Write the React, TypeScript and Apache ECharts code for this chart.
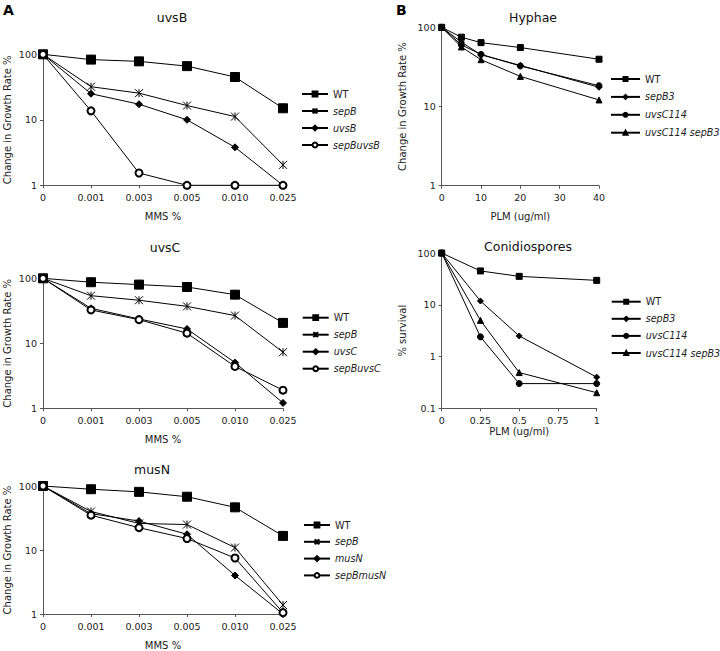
import React, { useEffect, useRef } from 'react';
import * as echarts from 'echarts';

// ---------- data ----------
const mmsDoses = ['0', '0.001', '0.003', '0.005', '0.010', '0.025'];

const uvsBPanelWT = [100, 83, 78, 66, 45, 15];
const uvsBPanelSepB = [100, 32, 25.5, 16.5, 11.2, 2.05];
const uvsBPanelUvsB = [100, 25, 17.3, 10, 3.8, 1];
const uvsBPanelSepBuvsB = [100, 13.7, 1.54, 1, 1, 1];

const uvsCPanelWT = [100, 87, 80, 73.5, 56, 20.6];
const uvsCPanelSepB = [100, 54, 46, 37, 26.7, 7.3];
const uvsCPanelUvsC = [100, 34.5, 23.7, 16.6, 5.05, 1.21];
const uvsCPanelSepBuvsC = [100, 32.6, 23.1, 14.3, 4.4, 1.9];

const musNPanelWT = [100, 89, 81, 68, 46.4, 16.6];
const musNPanelSepB = [100, 40, 26, 25, 10.9, 1.38];
const musNPanelMusN = [100, 37, 28.3, 17.6, 4, 1];
const musNPanelSepBmusN = [100, 35, 22.3, 15.1, 7.5, 1.05];

const hyphaeDoses = [0, 5, 10, 20, 40];
const hyphaeWT = [100, 75, 64, 55.5, 39.5];
const hyphaeSepB3 = [100, 65, 45, 33, 17.5];
const hyphaeUvsC114 = [100, 60, 45.5, 32.5, 18.3];
const hyphaeUvsC114SepB3 = [100, 56.5, 39, 24, 12.1];

const conidDoses = [0, 0.25, 0.5, 1];
const conidWT = [100, 45, 35.4, 29.6];
const conidSepB3 = [100, 11.8, 2.5, 0.4];
const conidUvsC114 = [100, 2.4, 0.3, 0.3];
const conidUvsC114SepB3 = [100, 5, 0.49, 0.2];

// ---------- styling helpers ----------
const FONT = 'DejaVu Sans';
const AXIS_COLOR = '#555';
const ASTERISK = 'path://M0,0L10,10M10,0L0,10M5,0L5,10';
const LEGEND_ROW = 10;

function sym(kind: string, big: boolean) {
  switch (kind) {
    case 'square':
      return { symbol: 'rect', symbolSize: big ? 9 : 6 };
    case 'asterisk':
      return { symbol: ASTERISK, symbolSize: big ? 8 : 6 };
    case 'diamond':
      return { symbol: 'diamond', symbolSize: big ? 7 : 6 };
    case 'open':
      return { symbol: 'emptyCircle', symbolSize: big ? 7 : 6 };
    case 'dot':
      return { symbol: 'circle', symbolSize: 6 };
    case 'triangle':
      return { symbol: 'triangle', symbolSize: 6 };
  }
  return {};
}

function lineSeries(name: string, idx: number, data: any[], kind: string, big: boolean) {
  return {
    type: 'line',
    name,
    xAxisIndex: idx,
    yAxisIndex: idx,
    data,
    ...sym(kind, big),
    showSymbol: true,
    lineStyle: { color: '#000', width: 1 },
    itemStyle: { color: '#000', borderColor: '#000', borderWidth: 1 },
    emphasis: { disabled: true },
  };
}

function pairs(xs: number[], ys: number[]) {
  return xs.map((x, i) => [x, ys[i]]);
}

function catXAxis(idx: number, nameGap: number) {
  return {
    gridIndex: idx,
    type: 'category',
    data: mmsDoses,
    boundaryGap: false,
    name: 'MMS %',
    nameLocation: 'middle',
    nameGap,
    nameTextStyle: { fontFamily: FONT, fontSize: 10, color: '#222' },
    axisLine: { lineStyle: { color: AXIS_COLOR, width: 1 } },
    axisTick: { show: true, length: 3, lineStyle: { color: AXIS_COLOR } },
    axisLabel: { fontFamily: FONT, fontSize: 9.5, color: '#222', margin: 7, interval: 0 },
    splitLine: { show: false },
  };
}

function valXAxis(idx: number, max: number, interval: number, nameGap: number) {
  return {
    gridIndex: idx,
    type: 'value',
    min: 0,
    max,
    interval,
    name: 'PLM (ug/ml)',
    nameLocation: 'middle',
    nameGap,
    nameTextStyle: { fontFamily: FONT, fontSize: 10, color: '#222' },
    axisLine: { lineStyle: { color: AXIS_COLOR, width: 1 } },
    axisTick: { show: true, length: 3, lineStyle: { color: AXIS_COLOR } },
    axisLabel: { fontFamily: FONT, fontSize: 9.5, color: '#222', margin: 7 },
    splitLine: { show: false },
  };
}

function logYAxis(idx: number, min: number, name: string, nameGap: number) {
  return {
    gridIndex: idx,
    type: 'log',
    logBase: 10,
    min,
    max: 100,
    name,
    nameLocation: 'middle',
    nameGap,
    nameTextStyle: { fontFamily: FONT, fontSize: 10, color: '#222' },
    axisLine: { show: true, lineStyle: { color: AXIS_COLOR, width: 1 } },
    axisTick: { show: true, length: 3, lineStyle: { color: AXIS_COLOR } },
    axisLabel: { fontFamily: FONT, fontSize: 9.5, color: '#222', margin: 6 },
    minorTick: { show: false },
    splitLine: { show: false },
  };
}

function legend(
  names: string[],
  left: number,
  firstCenter: number,
  itemWidth: number,
  itemHeight: number,
  spacing: number
) {
  return {
    data: names,
    orient: 'vertical',
    left,
    top: firstCenter - LEGEND_ROW / 2,
    itemWidth,
    itemHeight,
    itemGap: spacing - LEGEND_ROW,
    selectedMode: false,
    padding: 0,
    formatter: (n: string) => {
      const label = n.split('|')[1];
      return label === 'WT' ? label : `{i|${label}}`;
    },
    textStyle: {
      fontFamily: FONT,
      fontSize: 9.6,
      color: '#222',
      rich: { i: { fontFamily: FONT, fontSize: 9.6, fontStyle: 'italic', color: '#222' } },
    },
  };
}

function title(text: string, cx: number, top: number) {
  return {
    text,
    left: cx,
    top,
    textAlign: 'center',
    padding: 0,
    textStyle: { fontFamily: FONT, fontSize: 12.5, fontWeight: 'normal', color: '#111' },
  };
}

const option: any = {
  animation: false,
  backgroundColor: '#fff',
  title: [
    title('uvsB', 172, 11),
    title('uvsC', 165, 241),
    title('musN', 152, 463),
    title('Hyphae', 533, 11),
    title('Conidiospores', 528, 240),
  ],
  grid: [
    { left: 43, top: 54.3, width: 240, height: 131 },
    { left: 43, top: 278.3, width: 240, height: 130 },
    { left: 43, top: 486, width: 240, height: 129.7 },
    { left: 441.7, top: 27.3, width: 157.3, height: 158.4 },
    { left: 441.7, top: 253, width: 155, height: 155.3 },
  ],
  xAxis: [
    catXAxis(0, 26),
    catXAxis(1, 26),
    catXAxis(2, 26),
    valXAxis(3, 40, 10, 26),
    valXAxis(4, 1, 0.25, 18),
  ],
  yAxis: [
    logYAxis(0, 1, 'Change in Growth Rate %', 31),
    logYAxis(1, 1, 'Change in Growth Rate %', 31),
    logYAxis(2, 1, 'Change in Growth Rate %', 31),
    logYAxis(3, 1, 'Change in Growth Rate %', 34),
    logYAxis(4, 0.1, '% survival', 34),
  ],
  legend: [
    legend(['a1|WT', 'a1|sepB', 'a1|uvsB', 'a1|sepBuvsB'], 301, 94, 26, 6, 17),
    legend(['a2|WT', 'a2|sepB', 'a2|uvsC', 'a2|sepBuvsC'], 301.7, 317.7, 26, 6, 17),
    legend(['a3|WT', 'a3|sepB', 'a3|musN', 'a3|sepBmusN'], 303, 525, 26, 6, 16.8),
    legend(['b1|WT', 'b1|sepB3', 'b1|uvsC114', 'b1|uvsC114 sepB3'], 610, 79, 29, 5, 17.9),
    legend(['b2|WT', 'b2|sepB3', 'b2|uvsC114', 'b2|uvsC114 sepB3'], 610.7, 301.7, 29, 5, 17.1),
  ],
  graphic: [
    { type: 'text', left: 3, top: 3, style: { text: 'A', fontFamily: FONT, fontSize: 14, fontWeight: 'bold', fill: '#000' } },
    { type: 'text', left: 396, top: 3, style: { text: 'B', fontFamily: FONT, fontSize: 14, fontWeight: 'bold', fill: '#000' } },
  ],
  series: [
    lineSeries('a1|WT', 0, uvsBPanelWT, 'square', true),
    lineSeries('a1|sepB', 0, uvsBPanelSepB, 'asterisk', true),
    lineSeries('a1|uvsB', 0, uvsBPanelUvsB, 'diamond', true),
    lineSeries('a1|sepBuvsB', 0, uvsBPanelSepBuvsB, 'open', true),

    lineSeries('a2|WT', 1, uvsCPanelWT, 'square', true),
    lineSeries('a2|sepB', 1, uvsCPanelSepB, 'asterisk', true),
    lineSeries('a2|uvsC', 1, uvsCPanelUvsC, 'diamond', true),
    lineSeries('a2|sepBuvsC', 1, uvsCPanelSepBuvsC, 'open', true),

    lineSeries('a3|WT', 2, musNPanelWT, 'square', true),
    lineSeries('a3|sepB', 2, musNPanelSepB, 'asterisk', true),
    lineSeries('a3|musN', 2, musNPanelMusN, 'diamond', true),
    lineSeries('a3|sepBmusN', 2, musNPanelSepBmusN, 'open', true),

    lineSeries('b1|WT', 3, pairs(hyphaeDoses, hyphaeWT), 'square', false),
    lineSeries('b1|sepB3', 3, pairs(hyphaeDoses, hyphaeSepB3), 'diamond', false),
    lineSeries('b1|uvsC114', 3, pairs(hyphaeDoses, hyphaeUvsC114), 'dot', false),
    lineSeries('b1|uvsC114 sepB3', 3, pairs(hyphaeDoses, hyphaeUvsC114SepB3), 'triangle', false),

    lineSeries('b2|WT', 4, pairs(conidDoses, conidWT), 'square', false),
    lineSeries('b2|sepB3', 4, pairs(conidDoses, conidSepB3), 'diamond', false),
    lineSeries('b2|uvsC114', 4, pairs(conidDoses, conidUvsC114), 'dot', false),
    lineSeries('b2|uvsC114 sepB3', 4, pairs(conidDoses, conidUvsC114SepB3), 'triangle', false),
  ],
};

export default function App() {
  const ref = useRef<HTMLDivElement>(null);
  useEffect(() => {
    const chart = echarts.init(ref.current!, null, { renderer: 'svg' });
    chart.setOption(option);
    return () => {
      chart.dispose();
    };
  }, []);
  return (
    <div
      ref={ref}
      style={{ position: 'absolute', left: 0, top: 0, width: 720, height: 651, background: '#fff' }}
    />
  );
}
